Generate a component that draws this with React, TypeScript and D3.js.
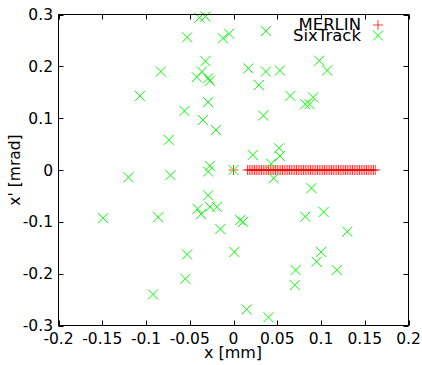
import React from 'react';
import * as d3 from 'd3';

// SixTrack tracking points (x [mm], x' [mrad])
const sixX = [
  -0.039, -0.032, -0.053, -0.012, -0.005, 0.037, -0.032, -0.083, -0.036, -0.042,
  -0.029, -0.027, 0.017, 0.037, 0.053, 0.029, 0.098, 0.107, -0.107, -0.029,
  0.065, 0.082, 0.087, 0.091, -0.056, -0.035, 0.034, -0.02, -0.074, 0.052,
  0.053, 0.022, 0.043, -0.027, -0.029, 0.0, -0.12, -0.072, 0.046, -0.029,
  -0.041, -0.037, -0.027, -0.019, -0.149, -0.086, 0.0077, 0.011, -0.015, 0.089,
  0.082, 0.103, 0.13, 0.001, 0.1, 0.095, -0.053, 0.071, 0.118, -0.055,
  0.07, -0.092, 0.015, 0.04,
];
const sixXp = [
  0.294, 0.296, 0.256, 0.254, 0.263, 0.268, 0.21, 0.19, 0.19, 0.179,
  0.177, 0.172, 0.196, 0.19, 0.192, 0.164, 0.211, 0.192, 0.143, 0.131,
  0.143, 0.127, 0.127, 0.14, 0.114, 0.0965, 0.105, 0.077, 0.058, 0.042,
  0.027, 0.029, 0.012, 0.008, -0.003, 0.0, -0.014, -0.01, -0.016, -0.049,
  -0.075, -0.085, -0.071, -0.071, -0.093, -0.091, -0.0965, -0.1, -0.114, -0.035,
  -0.09, -0.081, -0.119, -0.158, -0.158, -0.177, -0.163, -0.193, -0.193, -0.21,
  -0.222, -0.24, -0.269, -0.284,
];

// MERLIN points: all on x' = 0
const merlinX = [
  0.0, 0.016, 0.018, 0.02, 0.022, 0.024, 0.026, 0.028, 0.03, 0.032, 0.034,
  0.036, 0.038, 0.04, 0.042, 0.044, 0.046, 0.048, 0.05, 0.052, 0.054,
  0.056, 0.058, 0.06, 0.062, 0.064, 0.066, 0.068, 0.07, 0.072, 0.074,
  0.076, 0.078, 0.08, 0.082, 0.084, 0.086, 0.088, 0.09, 0.092, 0.094,
  0.096, 0.098, 0.1, 0.102, 0.104, 0.106, 0.108, 0.11, 0.112, 0.114,
  0.116, 0.118, 0.12, 0.122, 0.124, 0.126, 0.128, 0.13, 0.132, 0.134,
  0.136, 0.138, 0.14, 0.142, 0.144, 0.146, 0.148, 0.15, 0.152, 0.154,
  0.156, 0.158, 0.16, 0.162,
];

const xTicks = [-0.2, -0.15, -0.1, -0.05, 0, 0.05, 0.1, 0.15, 0.2];
const xTickLabels = ['-0.2', '-0.15', '-0.1', '-0.05', '0', '0.05', '0.1', '0.15', '0.2'];
const yTicks = [-0.3, -0.2, -0.1, 0, 0.1, 0.2, 0.3];
const yTickLabels = ['-0.3', '-0.2', '-0.1', '0', '0.1', '0.2', '0.3'];

const W = 422;
const H = 365;
const left = 58.5;
const right = 408.5;
const top = 14.5;
const bottom = 325.5;
const font = 'DejaVu Sans, sans-serif';

export default function App() {
  const x = d3.scaleLinear().domain([-0.2, 0.2]).range([left, right]);
  const y = d3.scaleLinear().domain([-0.3, 0.3]).range([bottom, top]);
  const s = 5; // marker half size
  const tk = 5; // tick length

  const cross = (cx: number, cy: number, key: string | number) => (
    <path
      key={key}
      d={`M${cx - s},${cy - s}L${cx + s},${cy + s}M${cx - s},${cy + s}L${cx + s},${cy - s}`}
      stroke="#00ff00"
      strokeWidth={1}
      fill="none"
    />
  );
  const plus = (cx: number, cy: number, key: string | number) => (
    <path
      key={key}
      d={`M${cx - s},${cy}L${cx + s},${cy}M${cx},${cy - s}L${cx},${cy + s}`}
      stroke="#ff0000"
      strokeOpacity={0.75}
      strokeWidth={1}
      fill="none"
    />
  );

  return (
    <svg
      width={W}
      height={H}
      style={{ position: 'absolute', left: 0, top: 0, background: '#fff' }}
      fontFamily={font}
    >
      {/* ticks, mirrored on all sides */}
      <g stroke="#000" strokeWidth={1}>
        {xTicks.map((t, i) => (
          <g key={'xt' + i}>
            <line x1={Math.round(x(t)) + 0.5} x2={Math.round(x(t)) + 0.5} y1={bottom} y2={bottom - tk} />
            <line x1={Math.round(x(t)) + 0.5} x2={Math.round(x(t)) + 0.5} y1={top} y2={top + tk} />
          </g>
        ))}
        {yTicks.map((t, i) => (
          <g key={'yt' + i}>
            <line x1={left} x2={left + tk} y1={Math.round(y(t)) + 0.5} y2={Math.round(y(t)) + 0.5} />
            <line x1={right} x2={right - tk} y1={Math.round(y(t)) + 0.5} y2={Math.round(y(t)) + 0.5} />
          </g>
        ))}
      </g>

      {/* tick labels */}
      <g fontSize={15.5} fill="#000">
        {xTicks.map((t, i) => (
          <text key={'xl' + i} x={x(t)} y={343.5} textAnchor="middle">
            {xTickLabels[i]}
          </text>
        ))}
        {yTicks.map((t, i) => (
          <text key={'yl' + i} x={53} y={y(t) + 5.5} textAnchor="end">
            {yTickLabels[i]}
          </text>
        ))}
      </g>

      {/* axis titles */}
      <text x={233} y={357.5} fontSize={16} textAnchor="middle">
        x [mm]
      </text>
      <text
        transform="translate(20,170) rotate(-90)"
        fontSize={15.5}
        textAnchor="middle"
      >
        x' [mrad]
      </text>

      {/* data */}
      <g>
        {merlinX.map((v, i) => plus(x(v), y(0), 'm' + i))}
        {sixX.map((v, i) => cross(x(v), y(sixXp[i]), 's' + i))}
      </g>

      {/* frame */}
      <rect x={left} y={top} width={right - left} height={bottom - top} fill="none" stroke="#000" strokeWidth={1} />

      {/* legend */}
      <g fontSize={16.5}>
        <text x={361} y={29.5} textAnchor="end">MERLIN</text>
        <text x={361} y={40.5} textAnchor="end">SixTrack</text>
        {plus(378, 25, 'lp')}
        {cross(378, 35.5, 'lc')}
      </g>
    </svg>
  );
}
